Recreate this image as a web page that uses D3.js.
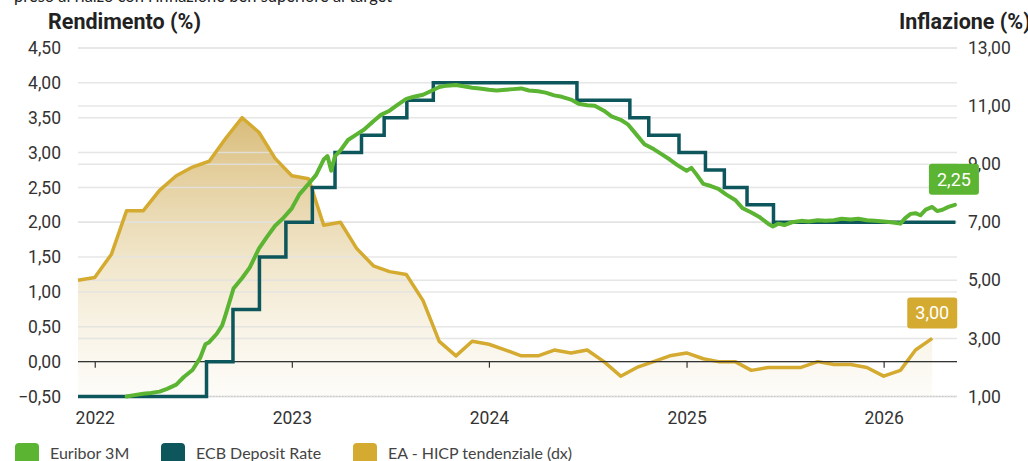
<!DOCTYPE html>
<html><head><meta charset="utf-8">
<script src="https://cdn.jsdelivr.net/npm/d3@7/dist/d3.min.js"></script>
<style>
html,body{margin:0;padding:0;background:#fff;}
svg{display:block;}
</style></head>
<body>
<svg id="chart" width="1028" height="461"></svg>
<script>
// ---------- DATA ----------
const leftTicks = [-0.5, 0, 0.5, 1, 1.5, 2, 2.5, 3, 3.5, 4, 4.5];
const rightTicks = [1, 3, 5, 7, 9, 11, 13];
const yearTicks = ["2022-01-01", "2023-01-01", "2024-01-01", "2025-01-01", "2026-01-01"];
const yearLabels = ["2022", "2023", "2024", "2025", "2026"];

const seriesNames = ["Euribor 3M", "ECB Deposit Rate", "EA - HICP tendenziale (dx)"];

// Euribor 3M (approx. semi-monthly readings)
const euriborDates = [
"2022-03-01","2022-03-15","2022-04-01","2022-04-15","2022-05-01","2022-05-15","2022-06-01","2022-06-15",
"2022-07-01","2022-07-15","2022-07-25","2022-08-01","2022-08-15","2022-08-25","2022-09-01","2022-09-15",
"2022-10-01","2022-10-15","2022-11-01","2022-11-15","2022-12-01","2022-12-15","2023-01-01","2023-01-15",
"2023-02-01","2023-02-15","2023-03-01","2023-03-08","2023-03-15","2023-03-22","2023-04-01","2023-04-15",
"2023-05-01","2023-05-15","2023-06-01","2023-06-15","2023-07-01","2023-07-15","2023-08-01","2023-08-15",
"2023-09-01","2023-09-15","2023-10-01","2023-10-15","2023-11-01","2023-11-15","2023-12-01","2023-12-15",
"2024-01-01","2024-01-15","2024-02-01","2024-02-15","2024-03-01","2024-03-15","2024-04-01","2024-04-15",
"2024-05-01","2024-05-15","2024-06-01","2024-06-15","2024-07-01","2024-07-15","2024-08-01","2024-08-15",
"2024-09-01","2024-09-15","2024-10-01","2024-10-15","2024-11-01","2024-11-15","2024-12-01","2024-12-15",
"2025-01-01","2025-01-10","2025-01-20","2025-02-01","2025-02-15","2025-03-01","2025-03-15","2025-04-01",
"2025-04-15","2025-05-01","2025-05-15","2025-06-01","2025-06-10","2025-06-20","2025-07-01","2025-07-15",
"2025-08-01","2025-08-15","2025-09-01","2025-09-15","2025-10-01","2025-10-15","2025-11-01","2025-11-15",
"2025-12-01","2025-12-15","2026-01-01","2026-01-15","2026-02-01","2026-02-10","2026-02-20","2026-03-01",
"2026-03-10","2026-03-20","2026-04-01","2026-04-10","2026-04-20","2026-05-01","2026-05-13"];
const euriborValues = [
-0.50,-0.48,-0.46,-0.45,-0.43,-0.39,-0.33,-0.22,
-0.12,0.05,0.25,0.28,0.40,0.52,0.69,1.05,
1.20,1.35,1.62,1.78,1.95,2.05,2.20,2.40,
2.55,2.68,2.90,2.95,2.74,2.95,3.03,3.18,
3.26,3.33,3.45,3.54,3.60,3.68,3.77,3.80,
3.83,3.88,3.94,3.96,3.97,3.95,3.93,3.92,
3.90,3.89,3.90,3.91,3.92,3.89,3.88,3.86,
3.82,3.80,3.76,3.70,3.68,3.67,3.60,3.52,
3.47,3.40,3.25,3.12,3.05,2.98,2.90,2.82,
2.74,2.78,2.68,2.55,2.52,2.48,2.40,2.32,
2.20,2.14,2.08,1.98,1.94,1.98,1.96,2.00,
2.02,2.01,2.03,2.02,2.03,2.05,2.04,2.05,
2.03,2.02,2.01,2.00,1.98,2.06,2.12,2.13,
2.10,2.18,2.22,2.16,2.18,2.22,2.25];

// ECB deposit facility rate (step changes)
const ecbDates = ["2021-12-01","2022-07-27","2022-09-14","2022-11-02","2022-12-21","2023-02-08","2023-03-22",
"2023-05-10","2023-06-21","2023-08-02","2023-09-20","2024-06-12","2024-09-18","2024-10-23","2024-12-18",
"2025-02-05","2025-03-12","2025-04-23","2025-06-11","2026-05-14"];
const ecbValues = [-0.50,0.00,0.75,1.50,2.00,2.50,3.00,3.25,3.50,3.75,4.00,3.75,3.50,3.25,3.00,2.75,2.50,2.25,2.00,2.00];

// Euro area HICP y/y (monthly, Dec 2021 - Apr 2026)
const hicpStart = "2021-12-01";
const hicpValues = [5.0,5.1,5.9,7.4,7.4,8.1,8.6,8.9,9.1,9.9,10.6,10.1,9.2,
8.6,8.5,6.9,7.0,6.1,5.5,5.3,5.2,4.3,2.9,2.4,2.9,
2.8,2.6,2.4,2.4,2.6,2.5,2.6,2.2,1.7,2.0,2.2,2.4,
2.5,2.3,2.2,2.2,1.9,2.0,2.0,2.0,2.2,2.1,2.1,2.0,
1.7,1.9,2.6,3.0];

const domainDates = ["2021-12-01","2026-05-15"];

// ---------- CHART ----------
const parse = d3.utcParse("%Y-%m-%d");
const fmt = v => d3.format(".2f")(v).replace(".", ",");
const svg = d3.select("#chart");
const L = 78, R = 957, T = 48, B = 396.5;

const x = d3.scaleUtc().domain(domainDates.map(parse)).range([L, 956]);
const yL = d3.scaleLinear().domain([-0.5, 4.5]).range([B, T]);
const yR = d3.scaleLinear().domain([1, 13]).range([B, T]);

const COL_G = "#5bb432", COL_T = "#0d565b", COL_Y = "#d4ab30";

const euribor = euriborDates.map((d, i) => ({d: parse(d), v: euriborValues[i]}));
const ecb = ecbDates.map((d, i) => ({d: parse(d), v: ecbValues[i]}));
const hicp = hicpValues.map((v, i) => ({d: d3.utcMonth.offset(parse(hicpStart), i), v}));

// top text (cropped at the top edge, as in the source image)
svg.append("text").attr("x", 14).attr("y", 2).attr("font-family", "Lato, sans-serif")
  .attr("font-size", 16.5).attr("fill", "#222")
  .text("preso al rialzo con l'inflazione ben superiore al target");

// titles
svg.append("text").attr("x", 48).attr("y", 29).attr("font-family", "Roboto, sans-serif")
  .attr("font-weight", "bold").attr("font-size", 21.5).attr("fill", "#222").text("Rendimento (%)");
svg.append("text").attr("x", 899).attr("y", 29).attr("font-family", "Roboto, sans-serif")
  .attr("font-weight", "bold").attr("font-size", 21.5).attr("fill", "#222").text("Inflazione (%)");

// defs gradient
const defs = svg.append("defs");
const grad = defs.append("linearGradient").attr("id", "hg").attr("gradientUnits", "userSpaceOnUse")
  .attr("x1", 0).attr("x2", 0).attr("y1", yR(10.6)).attr("y2", B);
grad.append("stop").attr("offset", "0%").attr("stop-color", "#d2b062").attr("stop-opacity", 0.85);
grad.append("stop").attr("offset", "55%").attr("stop-color", "#e2cc94").attr("stop-opacity", 0.45);
grad.append("stop").attr("offset", "100%").attr("stop-color", "#efe3c4").attr("stop-opacity", 0.12);

// area
svg.append("path").datum(hicp)
  .attr("d", d3.area().x(d => x(d.d)).y0(B).y1(d => yR(d.v)))
  .attr("fill", "url(#hg)");

// gridlines
const grid = svg.append("g");
leftTicks.forEach(t => grid.append("line").attr("x1", L).attr("x2", R)
  .attr("y1", yL(t)).attr("y2", yL(t)).attr("stroke", "#e2e2e2").attr("stroke-width", 1.5)
  .attr("stroke-opacity", 0.85));
rightTicks.forEach(t => grid.append("line").attr("x1", L).attr("x2", R)
  .attr("y1", yR(t)).attr("y2", yR(t)).attr("stroke", "#e2e2e2").attr("stroke-width", 1.5)
  .attr("stroke-opacity", 0.85));

// bottom dotted baseline
svg.append("line").attr("x1", L).attr("x2", R).attr("y1", B).attr("y2", B)
  .attr("stroke", "#c8c8c8").attr("stroke-width", 1).attr("stroke-dasharray", "1.5,1.5");

// y axes labels
const yAxisL = svg.append("g").attr("transform", `translate(${L - 17},0)`)
  .call(d3.axisLeft(yL).tickValues(leftTicks).tickFormat(fmt).tickSize(0).tickPadding(0));
const yAxisR = svg.append("g").attr("transform", `translate(${R + 11},0)`)
  .call(d3.axisRight(yR).tickValues(rightTicks).tickFormat(fmt).tickSize(0).tickPadding(0));
[yAxisL, yAxisR].forEach(g => {
  g.select(".domain").remove();
  g.selectAll("text").attr("font-family", "Roboto, sans-serif").attr("font-size", 17.5).attr("fill", "#333");
});

// HICP line
svg.append("path").datum(hicp)
  .attr("d", d3.line().x(d => x(d.d)).y(d => yR(d.v)))
  .attr("fill", "none").attr("stroke", COL_Y).attr("stroke-width", 3.5).attr("stroke-linejoin", "round");

// zero line + x axis
const xAxis = svg.append("g").attr("transform", `translate(0,${yL(0)})`)
  .call(d3.axisBottom(x).tickValues(yearTicks.map(parse)).tickFormat((d, i) => yearLabels[i]).tickSize(6).tickSizeOuter(0));
xAxis.select(".domain").attr("d", `M${L},0H${R}`).attr("stroke", "#333").attr("stroke-width", 1.2);
xAxis.selectAll(".tick line").attr("stroke", "#333").attr("stroke-width", 1.2);
xAxis.selectAll(".tick text").attr("y", 0).attr("dy", 0)
  .attr("transform", `translate(0,${424 - yL(0)})`)
  .attr("font-family", "Roboto, sans-serif").attr("font-size", 17.5).attr("fill", "#333");

// ECB step line
svg.append("path").datum(ecb)
  .attr("d", d3.line().x(d => x(d.d)).y(d => yL(d.v)).curve(d3.curveStepAfter))
  .attr("fill", "none").attr("stroke", COL_T).attr("stroke-width", 3.5);

// Euribor line
svg.append("path").datum(euribor)
  .attr("d", d3.line().x(d => x(d.d)).y(d => yL(d.v)))
  .attr("fill", "none").attr("stroke", COL_G).attr("stroke-width", 4).attr("stroke-linejoin", "round")
  .attr("stroke-linecap", "round");

// value labels
function badge(px, py, txt, col) {
  const w = 50, h = 31;
  svg.append("rect").attr("x", px - w / 2).attr("y", py - 10 - h).attr("width", w).attr("height", h)
    .attr("rx", 3).attr("fill", col);
  svg.append("text").attr("x", px).attr("y", py - 10 - h / 2 + 6.5).attr("text-anchor", "middle")
    .attr("font-family", "Roboto, sans-serif").attr("font-size", 18).attr("fill", "#fff").text(txt);
}
const lastE = euribor[euribor.length - 1];
badge(x(lastE.d) - 1, yL(lastE.v), fmt(lastE.v), COL_G);
const lastH = hicp[hicp.length - 1];
badge(x(lastH.d), yR(lastH.v), fmt(lastH.v), COL_Y);

// legend
const legX = [15, 161, 353];
const legCol = [COL_G, COL_T, COL_Y];
seriesNames.forEach((n, i) => {
  svg.append("rect").attr("x", legX[i]).attr("y", 443).attr("width", 24).attr("height", 24)
    .attr("rx", 4).attr("fill", legCol[i]);
  svg.append("text").attr("x", legX[i] + 35).attr("y", 459).attr("font-family", "Lato, sans-serif")
    .attr("font-size", 16).attr("fill", "#444").text(n);
});
</script>
</body></html>
